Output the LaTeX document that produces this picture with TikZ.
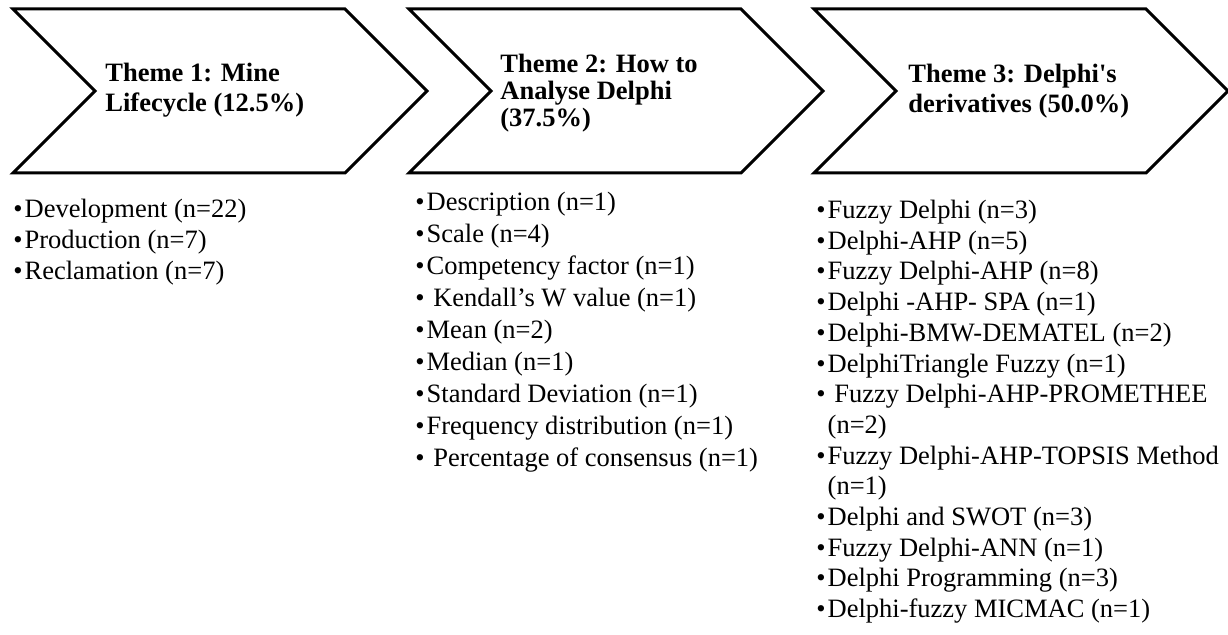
\documentclass[tikz,border=0pt]{standalone}
\usepackage{fontspec}
\setmainfont{Liberation Serif}
\newcommand\bul{•\hspace{1pt}}
\begin{document}
\begin{tikzpicture}[x=0.5pt, y=-0.5pt,
		chev/.style={line width=1.5pt, line join=miter},
		theme/.style={anchor=base west, align=left, inner sep=0pt},
		item/.style={anchor=base west, inner sep=0pt, font=\fontsize{13.25}{15}\selectfont}]
		\useasboundingbox (0,0) rectangle (1228,635);
		
		%chevrons
		\foreach \l in {13, 409, 814}{
			\draw[chev] (\l,9) -- ++(332,0) -- ++(82,82) -- ++(-82,82) -- ++(-332,0) -- ++(82,-82) -- cycle;
		}
		
		%theme titles (placed at the baseline of their last line)
		\node[theme, font=\fontsize{13.25}{15}\bfseries] (th1) at (105, 112){Theme 1: Mine\\Lifecycle (12.5\%)};
		\node[theme, font=\fontsize{13.25}{13.7}\bfseries] (th2) at (500, 127){Theme 2: How to\\Analyse Delphi\\(37.5\%)};
		\node[theme, font=\fontsize{13.25}{15}\bfseries] (th3) at (908, 113){Theme 3: Delphi\textquotesingle s\\derivatives (50.0\%)};
		
		%lists
		\foreach \t [count=\i] in {{\bul Development (n=22)}, {\bul Production (n=7)}, {\bul Reclamation (n=7)}}{
			\node[item] (l1-\i) at (13, 218+30.7*\i-30.7){\t};
		}
		\foreach \t [count=\i] in {{\bul Description (n=1)}, {\bul Scale (n=4)}, {\bul Competency factor (n=1)}, {\bul\ Kendall’s W value (n=1)}, {\bul Mean (n=2)}, {\bul Median (n=1)}, {\bul Standard Deviation (n=1)}, {\bul Frequency distribution (n=1)}, {\bul\ Percentage of consensus (n=1)}}{
			\node[item] (l2-\i) at (415, 211+32*\i-32){\t};
		}
		\foreach \t [count=\i] in {{\bul Fuzzy Delphi (n=3)}, {\bul Delphi-AHP (n=5)}, {\bul Fuzzy Delphi-AHP (n=8)}, {\bul Delphi -AHP- SPA (n=1)}, {\bul Delphi-BMW-DEMATEL (n=2)}, {\bul DelphiTriangle Fuzzy (n=1)}, {\bul\ Fuzzy Delphi-AHP-PROMETHEE}, {\phantom{\bul}(n=2)}, {\bul Fuzzy Delphi-AHP-TOPSIS Method}, {\phantom{\bul}(n=1)}, {\bul Delphi and SWOT (n=3)}, {\bul Fuzzy Delphi-ANN (n=1)}, {\bul Delphi Programming (n=3)}, {\bul Delphi-fuzzy MICMAC (n=1)}}{
			\node[item] (l3-\i) at (816, 218.6+30.7*\i-30.7){\t};
		}
		\end{tikzpicture}
\end{document}
